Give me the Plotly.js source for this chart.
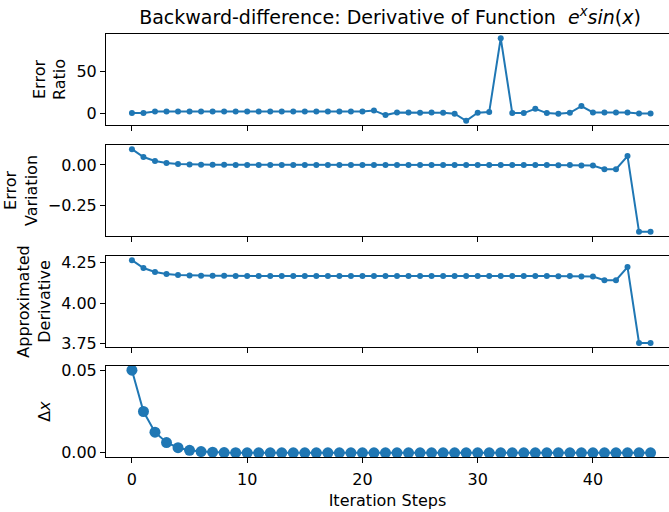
<!DOCTYPE html>
<html>
<head>
<meta charset="utf-8">
<script src="https://cdn.plot.ly/plotly-3.0.1.min.js"></script>
<style>html,body{margin:0;padding:0;background:#fff;overflow:hidden}</style>
</head>
<body>
<div id="chart" style="width:669px;height:512px"></div>
<script>
const steps = [0,1,2,3,4,5,6,7,8,9,10,11,12,13,14,15,16,17,18,19,20,21,22,23,24,25,26,27,28,29,30,31,32,33,34,35,36,37,38,39,40,41,42,43,44,45];

const errorRatio = [0, 0, 2, 2, 2, 2, 2, 2, 2, 2, 2, 2, 2, 2, 2, 2, 2, 2, 2, 2, 2,
  3.2, -2.4, 0.8, 0.8, 0.4, 0.8, 0.4, -0.8, -9.3, 0.4, 1.2, 89.8, 0, 0, 5.2, 0, -0.8, 0.4, 8.4,
  0.8, 0.8, 0.8, 0.8, -0.4, -0.4];

const errorVariation = [0.098, 0.049, 0.0245, 0.0122, 0.0061, 0.0031, 0.0015, 0.0008, 0.0004, 0.0002,
  0.0001, 0.00005, 0.00002, 0.00001, 0.000005,
  0, 0, 0, 0, 0, 0, 0, 0, 0, 0, 0, 0, 0, 0, 0, 0, 0, 0, 0, 0, 0, 0,
  -0.002, 0, -0.004, -0.004, -0.026, -0.026, 0.055, -0.415, -0.415];

const approxDerivative = [4.266, 4.217, 4.1925, 4.180, 4.174, 4.171, 4.1695, 4.1688, 4.1684, 4.1682, 4.1681,
  4.168, 4.168, 4.168, 4.168, 4.168, 4.168, 4.168, 4.168, 4.168, 4.168, 4.168, 4.168, 4.168,
  4.168, 4.168, 4.168, 4.168, 4.168, 4.168, 4.168, 4.168, 4.168, 4.168, 4.168, 4.168, 4.168,
  4.166, 4.168, 4.164, 4.164, 4.142, 4.142, 4.223, 3.753, 3.753];

const deltaX = [0.05, 0.025, 0.0125, 0.00625, 0.003125, 0.0015625, 0.00078125, 0.000390625, 0.0001953125, 0.00009765625,
  4.88e-5, 2.44e-5, 1.22e-5, 6.1e-6, 3.1e-6, 1.5e-6, 7.6e-7, 3.8e-7, 1.9e-7, 9.5e-8,
  4.8e-8, 2.4e-8, 1.2e-8, 6e-9, 3e-9, 1.5e-9, 7.5e-10, 3.7e-10, 1.9e-10, 9.3e-11,
  4.7e-11, 2.3e-11, 1.2e-11, 5.8e-12, 2.9e-12, 1.5e-12, 7.3e-13, 3.6e-13, 1.8e-13, 9.1e-14,
  4.5e-14, 2.3e-14, 1.1e-14, 5.7e-15, 2.8e-15, 1.4e-15];

const xTickVals = [0, 10, 20, 30, 40];
const titleText = 'Backward-difference: Derivative of Function\u00a0\u00a0<i>e<sup>x</sup>sin</i>(<i>x</i>)';
const xLabel = 'Iteration Steps';
const yLabels = ['Error<br>Ratio', 'Error<br>Variation', 'Approximated<br>Derivative', '\u0394<i>x</i>'];

const blue = '#1f77b4';
function pad(a) {
  const mn = Math.min(...a), mx = Math.max(...a), m = 0.05 * (mx - mn);
  return [mn - m, mx + m];
}
const font = {family: 'DejaVu Sans', size: 16, color: '#000'};

function trace(y, xa, ya, msize) {
  return {x: steps, y: y, xaxis: xa, yaxis: ya, type: 'scatter', mode: 'lines+markers',
    line: {color: blue, width: 2}, marker: {color: blue, size: msize}, hoverinfo: 'skip', showlegend: false};
}
const data = [
  trace(errorRatio, 'x', 'y', 6),
  trace(errorVariation, 'x2', 'y2', 6),
  trace(approxDerivative, 'x3', 'y3', 6),
  trace(deltaX, 'x4', 'y4', 11)
];

const xRange = [-2.25, 46.6];
function xax(anchor, labels) {
  const a = {anchor: anchor, range: xRange, showline: true, mirror: true, linecolor: '#000', linewidth: 1,
    ticks: 'outside', ticklen: 5, tickwidth: 1, tickcolor: '#000', tickvals: xTickVals,
    showgrid: false, zeroline: false, showticklabels: labels, tickfont: font};
  if (anchor !== 'y4') a.matches = 'x4';
  return a;
}
function yax(anchor, domain, range, tickvals, fmt, label) {
  return {anchor: anchor, domain: domain, range: range, showline: true, mirror: false, linecolor: '#000', linewidth: 1,
    ticks: 'outside', ticklen: 5, tickwidth: 1, tickcolor: '#000', tickvals: tickvals, tickformat: fmt,
    showgrid: false, zeroline: false, tickfont: font,
    title: {text: label, font: font, standoff: 6}};
}

const layout = {
  width: 669, height: 512,
  margin: {l: 106, r: 0, t: 34, b: 55},
  paper_bgcolor: '#fff', plot_bgcolor: '#fff',
  font: font,
  title: {text: titleText, font: {family: 'DejaVu Sans', size: 19, color: '#000'},
    xref: 'container', x: 390 / 669, xanchor: 'center', yref: 'container', y: 1 - 17.5 / 512, yanchor: 'middle'},
  xaxis: xax('y', false),
  xaxis2: xax('y2', false),
  xaxis3: xax('y3', false),
  xaxis4: Object.assign(xax('y4', true), {ticklabelstandoff: 3, title: {text: xLabel, font: font, standoff: 6}}),
  yaxis: yax('x', [0.7849, 1], pad(errorRatio), [0, 50], 'd', yLabels[0]),
  yaxis2: yax('x2', [0.5225, 0.7376], pad(errorVariation), [-0.25, 0], '.2f', yLabels[1]),
  yaxis3: yax('x3', [0.2600, 0.4752], pad(approxDerivative), [3.75, 4.0, 4.25], '.2f', yLabels[2]),
  yaxis4: yax('x4', [0, 0.2151], pad(deltaX), [0, 0.05], '.2f', yLabels[3])
};

Plotly.newPlot('chart', data, layout, {staticPlot: true, displayModeBar: false});
</script>
</body>
</html>
